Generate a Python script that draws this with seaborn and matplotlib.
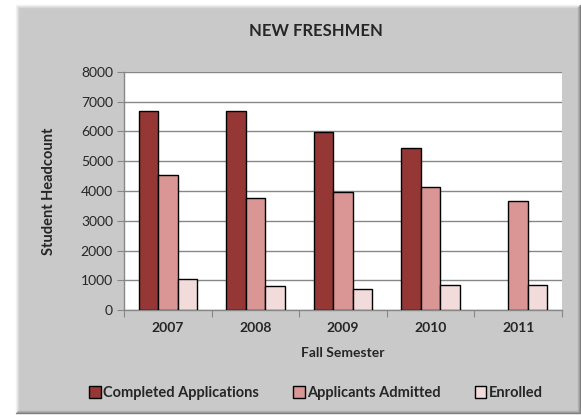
import matplotlib
matplotlib.use("Agg")
import matplotlib.pyplot as plt
from matplotlib.patches import Rectangle, Patch
from matplotlib.lines import Line2D
import numpy as np
import pandas as pd
import seaborn as sns

years = ["2007", "2008", "2009", "2010", "2011"]
completed = [6680, 6690, 5970, 5430, np.nan]
admitted = [4530, 3780, 3960, 4140, 3670]
enrolled = [1050, 810, 690, 850, 830]
series = ["Completed Applications", "Applicants Admitted", "Enrolled"]
colors = ["#953735", "#d99694", "#f2dcdb"]

df = pd.DataFrame({
    "year": years * 3,
    "series": [s for s in series for _ in years],
    "value": completed + admitted + enrolled,
})

sns.set_style("white")
plt.rcParams["font.family"] = ["Lato", "DejaVu Sans"]

W, H = 581, 415
fig = plt.figure(figsize=(W / 100, H / 100), dpi=100)
fig.patch.set_facecolor("white")


def fx(px):
    return px / W


def fy(py):
    return 1 - py / H


# gray chart area with bevel
x0, y0, x1, y1 = 16, 5, 580, 413
fig.patches.append(Rectangle((fx(x0), fy(y1)), fx(x1) - fx(x0), fy(y0) - fy(y1),
                             transform=fig.transFigure, facecolor="#c9c9c9",
                             edgecolor="none", zorder=-2))
bevel_light = ["#f4f4f4", "#e6e6e6", "#d8d8d8"]
bevel_dark = ["#7a7a7a", "#959595", "#b0b0b0"]
for i in range(3):
    lt = Line2D([fx(x0 + i), fx(x0 + i), fx(x1 - i)], [fy(y1 - i), fy(y0 + i), fy(y0 + i)],
                transform=fig.transFigure, color=bevel_light[i], lw=1, zorder=-1)
    dk = Line2D([fx(x0 + i), fx(x1 - i), fx(x1 - i)], [fy(y1 - i), fy(y1 - i), fy(y0 + i)],
                transform=fig.transFigure, color=bevel_dark[i], lw=1, zorder=-1)
    fig.lines.extend([lt, dk])

ax = fig.add_axes([fx(124), fy(310), fx(562) - fx(124), fy(72) - fy(310)])
ax.set_zorder(2)
ax.set_facecolor("white")

sns.barplot(data=df, x="year", y="value", hue="series", palette=colors,
            width=0.667, gap=0, edgecolor="black", linewidth=1, saturation=1,
            ax=ax, legend=False, zorder=3)

ax.set_ylim(0, 8000)
ax.set_xlim(-0.5, 4.5)
ax.set_yticks(range(0, 8001, 1000))
ax.yaxis.grid(True, color="#878787", lw=1)
ax.set_axisbelow(True)

ax.set_xticks(np.arange(-0.5, 5, 1))
ax.set_xticklabels([])
ax.set_xticks(range(5), minor=True)
ax.set_xticklabels(years, minor=True, fontweight="bold", fontsize=10)
ax.tick_params(axis="x", which="minor", length=0, pad=9)
ax.tick_params(axis="x", which="major", length=5, color="#878787", direction="out")
ax.tick_params(axis="y", length=5, color="#878787", direction="out", labelsize=10, pad=3)
ax.yaxis.set_tick_params(left=True)
ax.xaxis.set_tick_params(bottom=True, which="major")

for s in ["top", "right"]:
    ax.spines[s].set_visible(False)
for s in ["left", "bottom"]:
    ax.spines[s].set_color("#878787")
    ax.spines[s].set_linewidth(1)

ax.set_xlabel("Fall Semester", fontweight="bold", fontsize=10, labelpad=9)
ax.set_ylabel("Student Headcount", fontweight="bold", fontsize=10.5, labelpad=18)

fig.text(fx(316), fy(31), "NEW FRESHMEN", ha="center", va="center",
         fontweight="bold", fontsize=12)

handles = [Patch(facecolor=c, edgecolor="black", lw=1) for c in colors]
fig.legend(handles, series, loc="center", bbox_to_anchor=(fx(316), fy(393)),
           ncol=3, frameon=False, prop={"weight": "bold", "size": 10.5},
           handlelength=0.8, handleheight=0.8, handletextpad=0.2, columnspacing=2.3)

fig.savefig("out.png", dpi=100)
